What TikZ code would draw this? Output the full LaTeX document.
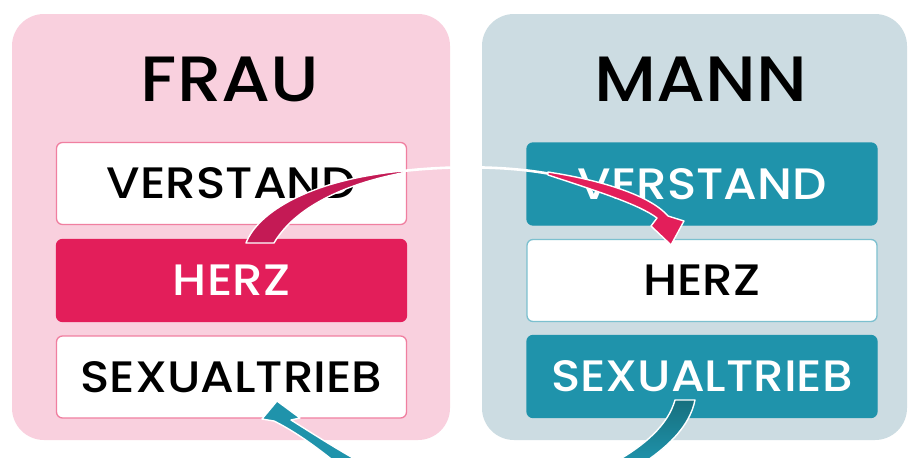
\documentclass[tikz,border=0pt]{standalone}
\usepackage{fontspec}
\setmainfont{Poppins Medium}[FakeStretch=1.1]
\definecolor{panelpink}{HTML}{F9D0DE}
\definecolor{panelblue}{HTML}{CCDCE2}
\definecolor{crimson}{HTML}{E31E5A}
\definecolor{crimsondark}{HTML}{C41A55}
\definecolor{pinkline}{HTML}{F07FA0}
\definecolor{teal}{HTML}{1F93AB}
\definecolor{tealdark}{HTML}{17707F}
\definecolor{tealline}{HTML}{7CC0CF}
\tikzset{
  cell/.style={rounded corners=6pt, minimum width=350pt, minimum height=82pt,
    inner sep=0pt, font=\fontsize{44}{44}\selectfont, line width=1.3pt},
  title/.style={font=\fontsize{64}{64}\selectfont, text=black},
  ribbon/.style={draw=white, line width=1.4pt, line join=round},
}
\begin{document}
\begin{tikzpicture}[x=1pt,y=-1pt]
\useasboundingbox[fill=white] (0,0) rectangle (911,458);

% two panels
\fill[panelpink, rounded corners=32pt] (12,14) rectangle (450,440);
\fill[panelblue, rounded corners=32pt] (482,14) rectangle (907,440);

% titles
\node[title] (tfrau) at (230,79) {FRAU};
\node[title] (tmann) at (701,79) {MANN};

% left column
\node[cell, draw=pinkline, fill=white, text=black] (fverstand) at (231.5,183.5) {VERSTAND};
\node[cell, draw=crimson, fill=crimson, text=white] (fherz) at (231.5,280.5) {HERZ};
\node[cell, draw=pinkline, fill=white, text=black] (fsex) at (231.5,377) {SEXUALTRIEB};

% right column
\node[cell, draw=teal, fill=teal, text=white] (mverstand) at (702,184) {VERSTAND};
\node[cell, draw=tealline, fill=white, text=black] (mherz) at (702,280.5) {HERZ};
\node[cell, draw=teal, fill=teal, text=white] (msex) at (702,376.5) {SEXUALTRIEB};

% crimson arrow: from the woman's heart over to the man's heart
\draw[white, line width=2.6pt, line cap=round]
  (395,172) .. controls (440,166) and (510,164) .. (565,177);
\filldraw[ribbon, fill=crimsondark]
  (246,243) .. controls (258,212) and (310,180) .. (402,171)
  -- (402,173) .. controls (335,186) and (292,212) .. (274,243) -- cycle;
\filldraw[ribbon, fill=crimson]
  (548,172) .. controls (600,180) and (650,195) .. (668,216)
  -- (684,221) -- (671,245) -- (651,226) -- (657,218)
  .. controls (640,205) and (600,192) .. (548,175) -- cycle;

% teal arrows: leaving the man's drive, arriving at the woman's drive
\filldraw[ribbon, top color=tealdark, bottom color=teal]
  (675,400) -- (695,400) .. controls (690,425) and (670,445) .. (645,462)
  -- (615,462) .. controls (645,445) and (668,425) .. (675,400) -- cycle;
\filldraw[ribbon, fill=teal]
  (335,462) .. controls (310,442) and (292,430) .. (274,421)
  -- (262,419) -- (277,401) -- (300,418) -- (291,420)
  .. controls (307,430) and (330,445) .. (360,462) -- cycle;
\end{tikzpicture}
\end{document}
